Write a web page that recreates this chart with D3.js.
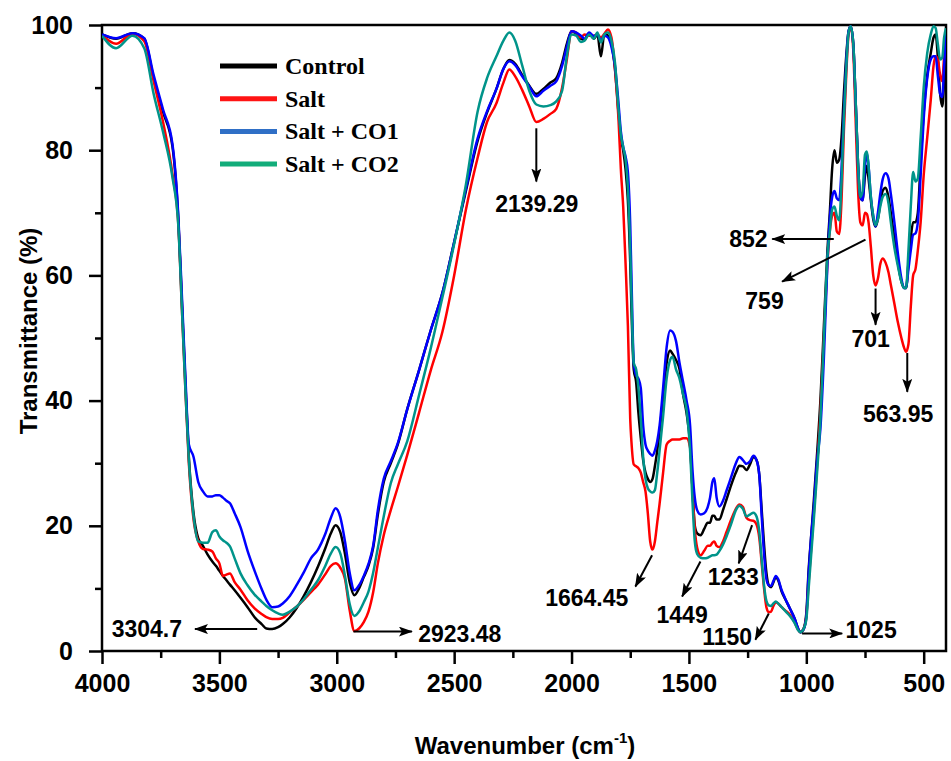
<!DOCTYPE html>
<html>
<head>
<meta charset="utf-8">
<script src="https://cdn.jsdelivr.net/npm/d3@7"></script>
<style>
  body { margin: 0; background: #fff; }
  svg { display: block; }
</style>
</head>
<body>
<script>
// FTIR spectra, wavenumber (cm-1) vs transmittance (%)
const wavenumbers = [
  4000, 3940, 3870, 3820, 3780, 3740, 3700, 3675, 3660, 3645, 3630, 3610, 3590, 3570, 3550,
  3530, 3515, 3500, 3485, 3470, 3455, 3435, 3410, 3380, 3350, 3320, 3300, 3275, 3250, 3230,
  3200, 3170, 3140, 3110, 3080, 3050, 3025, 3005, 2985, 2965, 2945, 2925, 2905, 2885, 2865,
  2845, 2825, 2800, 2770, 2740, 2700, 2650, 2600, 2550, 2500, 2450, 2400, 2360, 2320, 2290,
  2265, 2240, 2210, 2180, 2150, 2120, 2090, 2065, 2040, 2020, 2000, 1980, 1960, 1945, 1925,
  1905, 1890, 1875, 1860, 1845, 1830, 1815, 1800, 1790, 1780, 1770, 1760, 1750, 1745, 1735,
  1725, 1715, 1705, 1695, 1685, 1675, 1665, 1655, 1645, 1635, 1625, 1610, 1595, 1580, 1570,
  1555, 1540, 1525, 1510, 1495, 1485, 1475, 1465, 1450, 1435, 1420, 1410, 1400, 1392, 1382,
  1370, 1355, 1340, 1320, 1300, 1285, 1270, 1255, 1240, 1225, 1212, 1200, 1190, 1180, 1170,
  1160, 1150, 1140, 1130, 1120, 1105, 1090, 1070, 1050, 1035, 1025, 1012, 1000, 990, 980,
  968, 955, 940, 925, 910, 900, 890, 880, 870, 860, 850, 840, 830, 820, 811,
  800, 790, 780, 770, 760, 750, 742, 735, 725, 715, 705, 695, 685, 675, 662,
  650, 640, 625, 610, 595, 584, 575, 565, 555, 545, 535, 525, 513, 500, 485,
  470, 458, 449, 440, 430, 421, 413, 405
];

const control = [
  98.5, 97.8, 98.7, 97.8, 91.5, 86.1, 80.6, 69, 56, 43, 31, 22, 18, 16.8, 15.4,
  14.3, 13.6, 12.8, 12, 11.3, 10.6, 9.7, 8.5, 7, 5.4, 4.3, 3.6, 3.5, 3.8, 4.3,
  5.4, 6.9, 8.8, 11, 13.5, 16.3, 18.8, 20.1, 19, 15.5, 11, 8.9, 10, 11.8, 13.6,
  16.5, 21.8, 27, 30, 33, 38.6, 44.8, 51.2, 57.2, 65.3, 73.5, 81.5, 86, 89.8, 93,
  94.4, 93.8, 92, 90.3, 89, 89.8, 90.8, 91.5, 94, 97, 99, 98.6, 97.8, 97.6, 98.7,
  97.8, 98.5, 95, 98.6, 98.3, 97, 93, 86, 82, 80, 77, 72, 62, 55, 45,
  43, 38, 34, 30.5, 28.5, 27.5, 27, 27.5, 29.5, 32, 35, 40.5, 46, 48, 47.5,
  46.5, 45, 41, 38, 33, 26, 20, 18.8, 18.5, 19.5, 20.5, 20.5, 21.6, 21.6, 21,
  21, 22.5, 24.2, 26.5, 28.5, 29.6, 29.5, 28.9, 29.8, 31, 30.5, 28, 22.5, 17, 12.5,
  10.5, 10.2, 11, 11.8, 11.3, 9.5, 8.3, 6.8, 5.2, 3.6, 3, 3.5, 6, 13, 18,
  24, 31, 40, 52, 64, 70, 77, 80, 78, 78.5, 82, 89, 95, 99, 99.8,
  97, 88, 78, 72.5, 72, 76, 77.5, 75.5, 72, 69, 67.8, 69, 71.5, 73.5, 74,
  72.5, 70, 66, 62, 59, 58, 58, 62, 66, 68.5, 68.5, 70, 78, 86, 92,
  95.5, 98, 98.5, 95, 89, 87, 91, 97
];

const salt = [
  98.4, 97.0, 98.6, 97.4, 91, 84.5, 76.2, 68.3, 55, 42, 30, 21, 17.5, 16.3, 16.2,
  15.9, 14.8, 14, 12, 12.2, 12.4, 11, 9.8, 8.1, 6.8, 5.9, 5.4, 5.1, 5.1, 5.3,
  6.2, 7.1, 8.2, 9.4, 10.6, 12.2, 13.6, 14, 13.3, 11.5, 6.5, 3.2, 3.6, 4.6, 6.3,
  9.4, 14, 18.5, 22.5, 26.2, 31.3, 38, 44.8, 51, 60, 70.5, 78.8, 84.5, 87.5, 90.8,
  92.9, 91.8, 89.6, 87, 84.5, 85, 85.8, 86.6, 90, 94.5, 99, 98.8, 98, 98.5, 98.3,
  98.3, 98.5, 98, 98.6, 99.3, 98, 93, 85, 77, 71, 62, 52, 37, 33.5, 29.8,
  29.5, 29.2, 28.5, 27, 25.5, 22, 17.5, 16.2, 17.5, 20.5, 23.5, 28.5, 33, 33.6, 33.8,
  33.8, 33.8, 34, 34, 32.5, 26, 19.5, 16.5, 15.3, 16, 16.8, 16.8, 17.3, 17.5, 16.8,
  16.6, 17.5, 19, 21, 22.7, 23.4, 23, 21.3, 20.9, 20.8, 20.2, 18, 14, 10, 7,
  6.2, 6.3, 7.2, 7.8, 7.6, 7, 6.5, 5.8, 4.6, 3.4, 3, 3.5, 5.5, 11, 16,
  22, 29, 38, 50, 62, 67, 69.5, 70, 67, 66.6, 72, 83, 92, 98.5, 99.8,
  96, 85, 74, 68.5, 68, 70, 69.8, 68.5, 64.5, 60, 58.4, 59.5, 61.8, 62.7, 62,
  60.5, 58.5, 55.5, 52.5, 50, 48.5, 47.8, 49, 55, 60, 61, 64, 68.5, 76, 82,
  88, 93.5, 95, 94.5, 92, 91, 95, 98
];

const saltCO1 = [
  98.5, 97.9, 98.7, 97.9, 92, 86.5, 81, 69.5, 57, 44, 33, 31, 27, 25.5, 24.7,
  24.7, 24.9, 24.9, 24.5, 24, 23.6, 22, 19.8, 16, 12.8, 9.9, 8.2, 7, 7.1, 7.6,
  8.8, 10.6, 12.6, 14.8, 16.2, 18.6, 21.3, 22.8, 21.4, 17.5, 12.5, 9.7, 10.5, 12, 13.9,
  16.8, 22.5, 27.5, 30.3, 33.2, 38.6, 44.8, 51.2, 57.2, 65.3, 73.8, 81.9, 86.2, 89.8, 93,
  94.2, 93.6, 91.8, 90.2, 88.6, 89.5, 90.3, 91, 93.5, 96.5, 99, 98.8, 98.3, 97.8, 98.8,
  98.2, 98.5, 97.5, 98.3, 98, 96.5, 93.5, 87.5, 83, 80.5, 79, 76.5, 68, 60, 46,
  44, 43.5, 42, 36, 33, 32, 31.5, 31.2, 32, 33.5, 36, 42, 48.5, 51.2, 51,
  49.5, 46, 43, 40, 36, 29, 24.5, 22.5, 21.8, 22, 23, 24.5, 27, 27.6, 24.5,
  23.1, 24, 25.6, 27.8, 30, 31, 30.5, 29.9, 30.3, 31.2, 30.5, 28, 21.5, 15.5, 11.5,
  10.5, 10.4, 11.2, 12, 11.5, 9.7, 8.4, 6.8, 5.2, 3.6, 3, 3.4, 5.5, 12.4, 18,
  23, 30, 35.5, 47, 62, 69, 72.5, 73.5, 72.3, 72, 77, 86, 94, 99, 99.8,
  97, 88, 78, 72.5, 72, 77.5, 79.5, 77.5, 72.5, 69.5, 67.8, 70, 73, 75.3, 76.3,
  75.5, 73, 68.5, 63.5, 59.5, 58, 58, 61, 64, 66.5, 66.7, 68.5, 76, 85, 91.5,
  94.5, 95, 95, 92, 89, 88.5, 93.5, 99
];

const saltCO2 = [
  98.3, 96.3, 98.3, 96.3, 89, 82.9, 75.7, 68, 55, 42, 30.5, 21.5, 17.5, 17.3, 17.3,
  19, 19.3, 18.3, 17.7, 17.3, 16.7, 14.8, 12.4, 10.5, 9, 7.9, 7.2, 6.5, 6, 5.8,
  6.3, 7.1, 8.3, 9.8, 11.3, 13.5, 15.6, 16.6, 15.6, 12, 7.5, 5.6, 6.3, 7.8, 9.5,
  12.5, 16.5, 21.5, 26.8, 29.8, 33.5, 40.8, 48.3, 56.5, 65, 74.5, 86.2, 91.5, 95, 97.5,
  98.8, 97.5, 93.5, 89.5, 87.3, 87, 87.2, 87.8, 89.5, 95, 98.5, 98.3, 97.3, 97.5, 98.5,
  97.8, 98.8, 97.2, 98.5, 98.8, 97.5, 94, 86.5, 82.5, 80.5, 78.5, 74, 64, 57, 46,
  45, 42, 37, 31, 27.5, 26, 25.5, 25.3, 25.7, 28.5, 32, 37.5, 43.5, 46.5, 47,
  45, 43.5, 41, 38.5, 32, 24, 17.5, 15.5, 14.9, 14.8, 14.9, 15.1, 15.3, 15.3, 15.4,
  16, 17, 18.3, 20.3, 22.5, 23.2, 22.7, 21.5, 21.8, 22.1, 21.5, 19, 14.5, 10.5, 8,
  7.3, 7.2, 7.6, 7.9, 7.6, 7, 6.4, 5.6, 4.5, 3.3, 3, 3.5, 5, 10, 15,
  21, 28, 37, 50, 63, 67, 70.5, 71, 69.5, 68.8, 75, 85, 93, 98.8, 99.8,
  97, 88, 78, 72.5, 73.5, 79.3, 79.8, 77.5, 72.5, 69.5, 68, 69, 71, 72.5, 73,
  71.5, 68.5, 64.5, 61.5, 59, 58, 58, 64, 71, 76.5, 75, 75.5, 82, 90, 95.5,
  98.5, 99.8, 99.5, 97, 94.5, 94.8, 98, 99.5
];

const seriesNames = ['Control', 'Salt', 'Salt + CO1', 'Salt + CO2'];
const lineColors = ['#000000', '#ff0000', '#0000ff', '#00948a'];
const legendColors = ['#000000', '#ff1414', '#2f6fc6', '#12ad7a'];

const yTicks = [0, 20, 40, 60, 80, 100];
const yMinorTicks = [10, 30, 50, 70, 90];
const xTicks = [4000, 3500, 3000, 2500, 2000, 1500, 1000, 500];
const xMinorTicks = [3750, 3250, 2750, 2250, 1750, 1250, 750];

// peak annotations: arrow from -> to, label at (wavenumber, transmittance)
const peakLabels = [
  {text: '3304.7', from: [3339, 3.5], to: [3604, 3.5], at: [3659, 2.2], anchor: 'end'},
  {text: '2923.48', from: [2929, 3.1], to: [2680, 3.1], at: [2653, 1.5], anchor: 'start'},
  {text: '2139.29', from: [2150, 83.5], to: [2150, 75], at: [2148, 70.2], anchor: 'middle'},
  {text: '852', from: [883, 65.8], to: [1145, 65.8], at: [1165, 64.6], anchor: 'end'},
  {text: '759', from: [748, 65.7], to: [1103, 59], at: [1178, 54.7], anchor: 'middle'},
  {text: '701', from: [705, 57.9], to: [705, 52.1], at: [726, 48.6], anchor: 'middle'},
  {text: '563.95', from: [570, 47.6], to: [570, 41.4], at: [609, 36.6], anchor: 'middle'},
  {text: '1664.45', from: [1657, 15.3], to: [1728, 10.3], at: [1758, 7.2], anchor: 'end'},
  {text: '1449', from: [1451, 14.3], to: [1529, 8.7], at: [1529, 4.5], anchor: 'middle'},
  {text: '1233', from: [1231, 20.1], to: [1288, 14], at: [1311, 10.5], anchor: 'middle'},
  {text: '1150', from: [1160, 6], to: [1217, 1.8], at: [1231, 1.0], anchor: 'end'},
  {text: '1025', from: [1018, 2.8], to: [847, 2.8], at: [833, 2.1], anchor: 'start'}
];

const W = 951;
const H = 761;
const margin = {top: 25, right: 5, bottom: 110, left: 102};
const SANS = 'Liberation Sans, Arial, sans-serif';
const SERIF = 'Liberation Serif, Times New Roman, serif';

function drawViz() {
  const svg = d3.select('body')
    .append('svg')
    .attr('width', W)
    .attr('height', H);

  const x = d3.scaleLinear()
    .domain([4000, 405])
    .range([margin.left, W - margin.right]);
  const y = d3.scaleLinear()
    .domain([0, 100])
    .range([H - margin.bottom, margin.top]);

  const plotW = W - margin.right - margin.left;
  const plotH = H - margin.bottom - margin.top;

  svg.append('defs')
    .append('clipPath')
    .attr('id', 'plot-clip')
    .append('rect')
    .attr('x', margin.left)
    .attr('y', margin.top)
    .attr('width', plotW)
    .attr('height', plotH);

  const marker = svg.select('defs')
    .append('marker')
    .attr('id', 'arrow')
    .attr('markerUnits', 'userSpaceOnUse')
    .attr('markerWidth', 14)
    .attr('markerHeight', 10)
    .attr('refX', 13)
    .attr('refY', 5)
    .attr('orient', 'auto');
  marker.append('path')
    .attr('d', 'M0,0 L14,5 L0,10 L3,5 Z')
    .attr('fill', '#000');

  // axes
  const xAxis = svg.append('g')
    .attr('transform', `translate(0,${H - margin.bottom})`)
    .call(d3.axisBottom(x).tickValues(xTicks).tickSize(13).tickPadding(10).tickFormat(d3.format('d')));
  svg.append('g')
    .attr('transform', `translate(0,${H - margin.bottom})`)
    .call(d3.axisBottom(x).tickValues(xMinorTicks).tickSize(7).tickFormat(''));

  const yAxis = svg.append('g')
    .attr('transform', `translate(${margin.left},0)`)
    .call(d3.axisLeft(y).tickValues(yTicks).tickSize(13).tickPadding(16));
  svg.append('g')
    .attr('transform', `translate(${margin.left},0)`)
    .call(d3.axisLeft(y).tickValues(yMinorTicks).tickSize(7).tickFormat(''));

  svg.selectAll('.domain').remove();
  svg.selectAll('.tick line')
    .attr('stroke', '#000')
    .attr('stroke-width', 2.5);
  svg.selectAll('.tick text')
    .attr('fill', '#000')
    .style('font-family', SANS)
    .style('font-weight', 'bold')
    .style('font-size', '25px');

  // frame
  svg.append('rect')
    .attr('x', margin.left)
    .attr('y', margin.top)
    .attr('width', plotW)
    .attr('height', plotH)
    .attr('fill', 'none')
    .attr('stroke', '#000')
    .attr('stroke-width', 2.5);

  // spectra
  const allSeries = [control, salt, saltCO1, saltCO2];
  const line = d3.line()
    .x(d => x(d[0]))
    .y(d => y(d[1]))
    .curve(d3.curveMonotoneX);

  const curves = svg.append('g').attr('clip-path', 'url(#plot-clip)');
  allSeries.forEach((vals, i) => {
    curves.append('path')
      .datum(wavenumbers.map((w, j) => [w, vals[j]]))
      .attr('d', line)
      .attr('fill', 'none')
      .attr('stroke', lineColors[i])
      .attr('stroke-width', 2.5)
      .attr('stroke-linejoin', 'round');
  });

  // annotations
  const notes = svg.append('g');
  peakLabels.forEach(p => {
    notes.append('line')
      .attr('x1', x(p.from[0]))
      .attr('y1', y(p.from[1]))
      .attr('x2', x(p.to[0]))
      .attr('y2', y(p.to[1]))
      .attr('stroke', '#000')
      .attr('stroke-width', 2)
      .attr('marker-end', 'url(#arrow)');
    notes.append('text')
      .attr('x', x(p.at[0]))
      .attr('y', y(p.at[1]))
      .attr('text-anchor', p.anchor)
      .style('font-family', SANS)
      .style('font-weight', 'bold')
      .style('font-size', '23px')
      .text(p.text);
  });

  // legend
  const legend = svg.append('g');
  seriesNames.forEach((name, i) => {
    const ly = 66 + i * 32.7;
    legend.append('line')
      .attr('x1', 220)
      .attr('x2', 277)
      .attr('y1', ly)
      .attr('y2', ly)
      .attr('stroke', legendColors[i])
      .attr('stroke-width', 5);
    legend.append('text')
      .attr('x', 285)
      .attr('y', ly + 8)
      .style('font-family', SERIF)
      .style('font-weight', 'bold')
      .style('font-size', '24px')
      .text(name);
  });

  // axis titles
  const xTitle = svg.append('text')
    .attr('x', 525)
    .attr('y', 754)
    .attr('text-anchor', 'middle')
    .style('font-family', SANS)
    .style('font-weight', 'bold')
    .style('font-size', '24px');
  xTitle.append('tspan').text('Wavenumber (cm');
  xTitle.append('tspan').attr('dy', -11).style('font-size', '15px').text('-1');
  xTitle.append('tspan').attr('dy', 11).text(')');

  svg.append('text')
    .attr('transform', 'translate(37,331) rotate(-90)')
    .attr('text-anchor', 'middle')
    .style('font-family', SANS)
    .style('font-weight', 'bold')
    .style('font-size', '24px')
    .text('Transmittance (%)');
}

drawViz();
</script>
</body>
</html>
